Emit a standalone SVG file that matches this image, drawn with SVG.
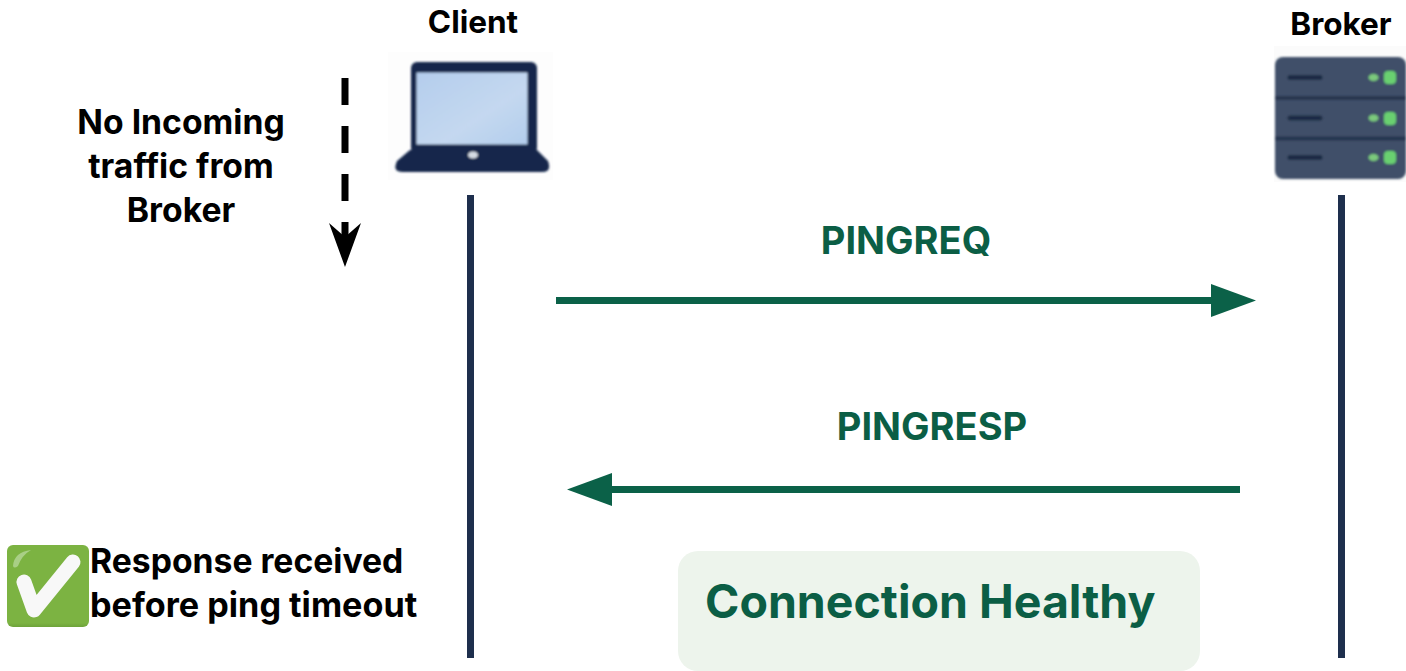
<svg xmlns="http://www.w3.org/2000/svg" width="1406" height="671" viewBox="0 0 1406 671">
<defs>
<filter id="soft" x="-5%" y="-5%" width="110%" height="110%"><feGaussianBlur stdDeviation="0.8"/></filter>
<linearGradient id="scr" x1="0" y1="0" x2="1" y2="1"><stop offset="0" stop-color="#b4cdec"/><stop offset="0.6" stop-color="#c4d8f0"/><stop offset="1" stop-color="#b2cdec"/></linearGradient>
<linearGradient id="chk" x1="0" y1="0" x2="0" y2="1"><stop offset="0" stop-color="#7cb342"/><stop offset="0.95" stop-color="#7cb342"/><stop offset="1" stop-color="#6ea33a"/></linearGradient>
</defs>
<style>
text{font-family:"Inter","Liberation Sans",sans-serif;font-weight:700}
.k{fill:#000;font-size:33.700px}
.t{fill:#000;font-size:31.500px}
.g{fill:#0b5e45;font-size:38px}
.life{stroke:#1e2f4d;stroke-width:7;fill:none}
.msg{stroke:#0b6148;stroke-width:7;fill:none}
.head{fill:#0b6148}
.slot{stroke:#1b2a45;stroke-width:5;stroke-linecap:round}
.l1{fill:#7cc97c}.l2{fill:#69d06f}
</style>
<rect width="1406" height="671" fill="#fff"/>
<g id="connectors">
<path class="life" d="M470.500 195V658"/>
<path class="life" d="M1341.500 195V658"/>
<path d="M345 78V240" stroke="#000" stroke-width="7" stroke-dasharray="27 21" fill="none"/>
<path d="M329 223L345 267L361 223L345 237Z" fill="#000"/>
<path class="msg" d="M556 300.500H1215"/>
<path class="head" d="M1211 284L1256 300.500L1211 317Z"/>
<path class="msg" d="M1240 489.500H608"/>
<path class="head" d="M612 473L567 489.500L612 506Z"/>
</g>
<g id="client">
<rect x="388" y="52" width="165" height="128" fill="#fdfdfd"/>
<g filter="url(#soft)">
<rect x="411" y="62" width="126" height="92" rx="6" fill="#14284c"/>
<rect x="416.500" y="72.500" width="111" height="72" fill="url(#scr)"/>
<path d="M410 150H537L548 161Q552 172 542 172H402Q392 172 397 161Z" fill="#14284c"/>
<ellipse cx="473" cy="155" rx="5" ry="3.500" fill="#d5dbe3"/>
</g>
<text class="t" x="473" y="33" text-anchor="middle">Client</text>
</g>
<g id="broker">
<rect x="1274" y="46" width="132" height="136" fill="#fbfbfb"/>
<g filter="url(#soft)">
<rect x="1275" y="57" width="131" height="122" rx="8" fill="#3f5069"/>
<path d="M1275 98H1406M1275 138.500H1406" stroke="#25344f" stroke-width="4"/>
<path class="slot" d="M1290 77.500H1320M1290 118H1320M1290 157.500H1320"/>
<ellipse class="l1" cx="1373.500" cy="77.500" rx="5" ry="3.500"/><rect class="l2" x="1384" y="71" width="12" height="13" rx="4"/>
<ellipse class="l1" cx="1373.500" cy="118" rx="5" ry="3.500"/><rect class="l2" x="1384" y="112" width="12" height="13" rx="4"/>
<ellipse class="l1" cx="1373.500" cy="157.500" rx="5" ry="3.500"/><rect class="l2" x="1384" y="151" width="12" height="13" rx="4"/>
</g>
<text class="t" x="1341" y="35" text-anchor="middle">Broker</text>
</g>
<g id="no-traffic">
<text class="k" x="181" y="134" text-anchor="middle">No Incoming</text>
<text class="k" x="181" y="178" text-anchor="middle">traffic from</text>
<text class="k" x="181" y="222" text-anchor="middle">Broker</text>
</g>
<g id="pingreq"><text class="g" x="906" y="254" text-anchor="middle">PINGREQ</text></g>
<g id="pingresp"><text class="g" x="932" y="440" text-anchor="middle">PINGRESP</text></g>
<g id="response">
<rect x="7" y="545" width="82" height="82" rx="6" fill="url(#chk)"/>
<path d="M13 566Q14 552 31 550Q22 555 18 566Q14 569 13 566Z" fill="#a9cf86"/>
<path d="M24 582L34 610L73 562" stroke="#f8f8f8" stroke-width="15" fill="none" stroke-linecap="round" stroke-linejoin="round"/>
<text class="k" x="90" y="573">Response received</text>
<text class="k" x="90" y="617" style="font-size:34.200px">before ping timeout</text>
</g>
<g id="healthy">
<rect x="678" y="551" width="522" height="120" rx="20" fill="#edf4ec"/>
<text x="705" y="618" fill="#0b5e45" font-size="46.500">Connection Healthy</text>
</g>
</svg>
